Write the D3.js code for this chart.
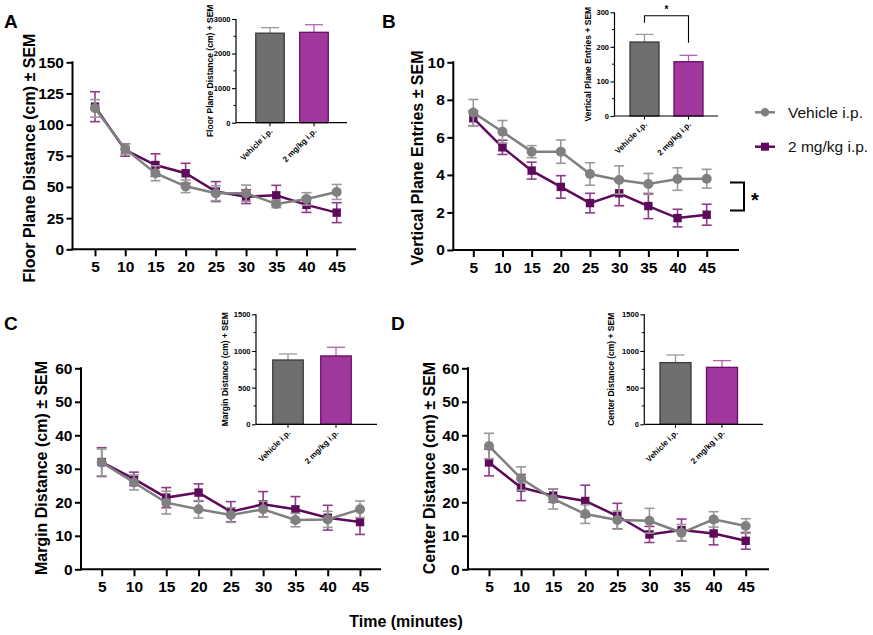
<!DOCTYPE html>
<html><head><meta charset="utf-8">
<script src="https://cdn.jsdelivr.net/npm/d3@7"></script>
<style>
html,body{margin:0;padding:0;background:#fff;}
svg{display:block;font-family:"Liberation Sans",Arial,Helvetica,sans-serif;}
</style></head>
<body>
<svg id="c" width="873" height="635"></svg>
<script>
// ---------- DATA ----------
const times = [5, 10, 15, 20, 25, 30, 35, 40, 45];
const seriesNames = ["Vehicle i.p.", "2 mg/kg i.p."];

const floorVeh    = [113.1, 80.5, 61.0, 50.5, 45.0, 45.0, 36.4, 40.4, 46.0];
const floorVehSem = [7, 4, 6, 5, 6, 6.5, 3, 5, 6];
const floor2mg    = [114.4, 79.7, 67.6, 61.0, 46.3, 42.2, 43.3, 35.6, 29.4];
const floor2mgSem = [12, 5, 9, 8, 8, 5.5, 8, 6, 8];

const vertVeh    = [7.32, 6.30, 5.24, 5.24, 4.05, 3.73, 3.52, 3.78, 3.80];
const vertVehSem = [0.70, 0.60, 0.32, 0.62, 0.60, 0.75, 0.56, 0.60, 0.50];
const vert2mg    = [7.02, 5.47, 4.23, 3.36, 2.50, 3.02, 2.34, 1.70, 1.88];
const vert2mgSem = [0.40, 0.38, 0.45, 0.60, 0.52, 0.66, 0.67, 0.47, 0.56];

const marginVeh    = [31.9, 25.9, 19.9, 17.9, 16.2, 17.9, 14.7, 14.9, 17.9];
const marginVehSem = [4.0, 2.2, 3.4, 2.6, 2.2, 2.4, 2.0, 2.4, 2.5];
const margin2mg    = [32.0, 27.0, 21.4, 22.9, 17.2, 19.4, 17.9, 15.4, 14.1];
const margin2mgSem = [4.3, 2.0, 3.0, 2.6, 3.0, 3.8, 3.8, 3.7, 3.7];

const centerVeh    = [36.8, 27.1, 21.0, 16.5, 14.7, 14.5, 10.9, 14.9, 12.9];
const centerVehSem = [3.8, 3.5, 3.0, 2.8, 2.7, 3.7, 2.5, 2.3, 2.2];
const center2mg    = [31.9, 24.4, 22.0, 20.4, 15.9, 10.4, 11.7, 10.7, 8.5];
const center2mgSem = [4.0, 3.9, 2.0, 4.7, 3.8, 2.4, 3.3, 3.4, 2.5];

const floorTotal = [2590, 2615], floorTotalSem = [160, 220];
const vertTotal = [214, 157], vertTotalSem = [22, 18.5];
const marginTotal = [877, 932], marginTotalSem = [82, 118];
const centerTotal = [841, 777], centerTotalSem = [104, 91];

const floorTicks = [0, 25, 50, 75, 100, 125, 150];
const vertTicks = [0, 2, 4, 6, 8, 10];
const distTicks = [0, 10, 20, 30, 40, 50, 60];
const floorInsetTicks = [0, 1000, 2000, 3000];
const vertInsetTicks = [0, 100, 200, 300];
const distInsetTicks = [0, 500, 1000, 1500];

// ---------- STYLE ----------
const GRAY = "#808080", GRAY_ERR = "#9a9a9a";
const PURP = "#5e0a5a", PURP_ERR = "#8f3c8b";
const BAR_GRAY = "#6f6f6f", BAR_GRAY_S = "#3a3a3a";
const BAR_PURP = "#a0389d", BAR_PURP_S = "#6a0d66";

const svg = d3.select("#c");
svg.append("rect").attr("width", 873).attr("height", 635).attr("fill", "#fff");

function mainPanel(L, veh, vehSem, drug, drugSem, ticks, ylabel) {
  const g = svg.append("g");
  const x = d3.scaleLinear().domain([5, 45]).range([L.x5, L.x45]);
  const y = d3.scaleLinear().domain([ticks[0], ticks[ticks.length - 1]]).range([L.yBot, L.yTop]);

  const ya = g.append("g").attr("transform", `translate(${L.axL},0)`)
    .call(d3.axisLeft(y).tickValues(ticks).tickSize(6).tickPadding(2.5).tickFormat(d3.format("d")));
  const xa = g.append("g").attr("transform", `translate(0,${L.yBot})`)
    .call(d3.axisBottom(x).tickValues(times).tickSize(7).tickPadding(5).tickFormat(d3.format("d")));
  [ya, xa].forEach(a => {
    a.select(".domain").remove();
    a.selectAll(".tick line").attr("stroke", "#000").attr("stroke-width", 2);
    a.selectAll(".tick text").attr("fill", "#000").attr("font-size", 15.5).attr("font-weight", "bold")
      .attr("font-family", "Liberation Sans, Arial, sans-serif");
  });
  g.append("line").attr("x1", L.axL).attr("x2", L.axL).attr("y1", L.yTop - 1).attr("y2", L.yBot + 1)
    .attr("stroke", "#000").attr("stroke-width", 2);
  g.append("line").attr("x1", L.axL - 1).attr("x2", L.axR).attr("y1", L.yBot).attr("y2", L.yBot)
    .attr("stroke", "#000").attr("stroke-width", 2);

  g.append("text").attr("transform", `translate(${L.labX},${L.labY}) rotate(-90)`)
    .attr("text-anchor", "middle").attr("font-size", 16).attr("font-weight", "bold").text(ylabel);

  const series = [
    {vals: drug, sem: drugSem, col: PURP, ecol: PURP_ERR, shape: "sq"},
    {vals: veh, sem: vehSem, col: GRAY, ecol: GRAY_ERR, shape: "ci"}
  ];
  series.forEach(s => {
    const pts = times.map((t, i) => ({t, v: s.vals[i], e: s.sem[i]}));
    const eg = g.append("g").attr("stroke", s.ecol).attr("stroke-width", 1.6);
    pts.forEach(p => {
      const cx = x(p.t), y1 = y(p.v + p.e), y2 = y(p.v - p.e);
      eg.append("line").attr("x1", cx).attr("x2", cx).attr("y1", y1).attr("y2", y2);
      eg.append("line").attr("x1", cx - 5).attr("x2", cx + 5).attr("y1", y1).attr("y2", y1);
      eg.append("line").attr("x1", cx - 5).attr("x2", cx + 5).attr("y1", y2).attr("y2", y2);
    });
    g.append("path").datum(pts)
      .attr("d", d3.line().x(p => x(p.t)).y(p => y(p.v)))
      .attr("fill", "none").attr("stroke", s.col).attr("stroke-width", 2.5);
    if (s.shape === "ci") {
      g.selectAll(null).data(pts).enter().append("circle")
        .attr("cx", p => x(p.t)).attr("cy", p => y(p.v)).attr("r", 5).attr("fill", s.col);
    } else {
      g.selectAll(null).data(pts).enter().append("rect")
        .attr("x", p => x(p.t) - 4.2).attr("y", p => y(p.v) - 4.2)
        .attr("width", 8.4).attr("height", 8.4).attr("fill", s.col);
    }
  });
  return {x, y, g};
}

function inset(I, vals, sems, ticks, minorStep, ylabel) {
  const g = svg.append("g");
  const y = d3.scaleLinear().domain([0, ticks[ticks.length - 1]]).range([I.yBot, I.yTop]);
  const x = d3.scalePoint().domain(seriesNames).range([I.c1, I.c2]);
  const minor = d3.range(0, ticks[ticks.length - 1] + 0.001, minorStep).filter(v => !ticks.includes(v));

  g.selectAll(null).data(minor).enter().append("line")
    .attr("x1", I.axX - 2.5).attr("x2", I.axX).attr("y1", d => y(d)).attr("y2", d => y(d))
    .attr("stroke", "#000").attr("stroke-width", 1);
  const ya = g.append("g").attr("transform", `translate(${I.axX},0)`)
    .call(d3.axisLeft(y).tickValues(ticks).tickSize(4).tickPadding(1.5).tickFormat(d3.format("d")));
  ya.select(".domain").remove();
  ya.selectAll(".tick line").attr("stroke", "#000").attr("stroke-width", 1.1);
  ya.selectAll(".tick text").attr("fill", "#000").attr("font-size", 7.5).attr("font-weight", "bold")
    .attr("font-family", "Liberation Sans, Arial, sans-serif");

  const cols = [[BAR_GRAY, BAR_GRAY_S, GRAY_ERR], [BAR_PURP, BAR_PURP_S, "#b664b2"]];
  seriesNames.forEach((n, i) => {
    const cx = x(n), top = y(vals[i]), et = y(vals[i] + sems[i]);
    g.append("line").attr("x1", cx).attr("x2", cx).attr("y1", top).attr("y2", et)
      .attr("stroke", cols[i][2]).attr("stroke-width", 1.3);
    g.append("line").attr("x1", cx - 9).attr("x2", cx + 9).attr("y1", et).attr("y2", et)
      .attr("stroke", cols[i][2]).attr("stroke-width", 1.3);
    g.append("rect").attr("x", cx - I.bw / 2).attr("y", top).attr("width", I.bw).attr("height", I.yBot - top)
      .attr("fill", cols[i][0]).attr("stroke", cols[i][1]).attr("stroke-width", 1.3);
    g.append("line").attr("x1", cx).attr("x2", cx).attr("y1", I.yBot).attr("y2", I.yBot + 3.5)
      .attr("stroke", "#000").attr("stroke-width", 1.1);
    g.append("text").attr("transform", `translate(${cx + 3},${I.yBot + 9}) rotate(-45)`)
      .attr("text-anchor", "end").attr("font-size", 8).attr("font-weight", "bold").text(n);
  });

  g.append("line").attr("x1", I.axX).attr("x2", I.axX).attr("y1", I.yTop).attr("y2", I.yBot)
    .attr("stroke", "#000").attr("stroke-width", 1.2);
  g.append("line").attr("x1", I.axX).attr("x2", I.axR).attr("y1", I.yBot).attr("y2", I.yBot)
    .attr("stroke", "#000").attr("stroke-width", 1.2);

  g.append("text").attr("transform", `translate(${I.labX},${(I.yTop + I.yBot) / 2}) rotate(-90)`)
    .attr("text-anchor", "middle").attr("font-size", 8.5).attr("font-weight", "bold").text(ylabel);
  return {x, y, g};
}

// ---------- PANELS ----------
const A = mainPanel({axL: 72.5, axR: 356, x5: 95, x45: 336.7, yTop: 62.3, yBot: 249.3, labX: 35, labY: 158},
  floorVeh, floorVehSem, floor2mg, floor2mgSem, floorTicks, "Floor Plane Distance (cm) ± SEM");
const B = mainPanel({axL: 453.3, axR: 739, x5: 473.3, x45: 706.7, yTop: 62.3, yBot: 250, labX: 423, labY: 158},
  vertVeh, vertVehSem, vert2mg, vert2mgSem, vertTicks, "Vertical Plane Entries ± SEM");
const C = mainPanel({axL: 81, axR: 381, x5: 101.7, x45: 360, yTop: 368.3, yBot: 569.3, labX: 47, labY: 468},
  marginVeh, marginVehSem, margin2mg, margin2mgSem, distTicks, "Margin Distance (cm) ± SEM");
const D = mainPanel({axL: 468, axR: 769, x5: 489, x45: 745.7, yTop: 368.3, yBot: 569.3, labX: 435, labY: 468},
  centerVeh, centerVehSem, center2mg, center2mgSem, distTicks, "Center Distance (cm) ± SEM");

inset({axX: 236, axR: 347, yTop: 19, yBot: 122.7, c1: 270, c2: 314, bw: 28.5, labX: 213},
  floorTotal, floorTotalSem, floorInsetTicks, 500, "Floor Plane Distance (cm) + SEM");
const BI = inset({axX: 614.5, axR: 718, yTop: 12.3, yBot: 116, c1: 644.5, c2: 688.5, bw: 29, labX: 591},
  vertTotal, vertTotalSem, vertInsetTicks, 50, "Vertical Plane Entries + SEM");
inset({axX: 256, axR: 377, yTop: 314.3, yBot: 424.3, c1: 288, c2: 336, bw: 30.5, labX: 228},
  marginTotal, marginTotalSem, distInsetTicks, 250, "Margin Distance (cm) + SEM");
inset({axX: 644.3, axR: 763, yTop: 314.3, yBot: 424.3, c1: 675.5, c2: 722, bw: 31, labX: 614},
  centerTotal, centerTotalSem, distInsetTicks, 250, "Center Distance (cm) + SEM");

// inset B significance bracket
{
  const y = BI.y, x = BI.x;
  const x1 = x(seriesNames[0]), x2 = x(seriesNames[1]);
  BI.g.append("path")
    .attr("d", `M${x1},${y(270)}V${y(290)}H${x2}V${y(212)}`)
    .attr("fill", "none").attr("stroke", "#000").attr("stroke-width", 1.1);
  BI.g.append("text").attr("x", (x1 + x2) / 2).attr("y", y(290) - 3).attr("text-anchor", "middle")
    .attr("font-size", 10).attr("font-weight", "bold").text("*");
}

// main B significance bracket
{
  const y = B.y;
  B.g.append("path").attr("d", `M730,${y(3.6)}H744V${y(2.1)}H730`)
    .attr("fill", "none").attr("stroke", "#000").attr("stroke-width", 2);
  B.g.append("text").attr("x", 755).attr("y", (y(3.6) + y(2.1)) / 2 + 10).attr("text-anchor", "middle")
    .attr("font-size", 20).attr("font-weight", "bold").text("*");
}

// legend
const leg = svg.append("g");
[{n: seriesNames[0], c: GRAY, s: "ci", y: 112.3}, {n: seriesNames[1], c: PURP, s: "sq", y: 146.7}].forEach(d => {
  leg.append("line").attr("x1", 755).attr("x2", 775).attr("y1", d.y).attr("y2", d.y)
    .attr("stroke", d.c).attr("stroke-width", 2.5);
  if (d.s === "ci") leg.append("circle").attr("cx", 765).attr("cy", d.y).attr("r", 4.2).attr("fill", d.c);
  else leg.append("rect").attr("x", 761).attr("y", d.y - 4).attr("width", 8).attr("height", 8).attr("fill", d.c);
  leg.append("text").attr("x", 788).attr("y", d.y + 5.5).attr("font-size", 15.5).attr("fill", "#111").text(d.n);
});

// panel letters
[["A", 4, 28], ["B", 382, 28], ["C", 4, 330], ["D", 391, 330]].forEach(([t, x, y]) => {
  svg.append("text").attr("x", x).attr("y", y).attr("font-size", 19).attr("font-weight", "bold").text(t);
});

svg.append("text").attr("x", 406).attr("y", 627).attr("text-anchor", "middle")
  .attr("font-size", 16).attr("font-weight", "bold").text("Time (minutes)");
</script>
</body></html>
